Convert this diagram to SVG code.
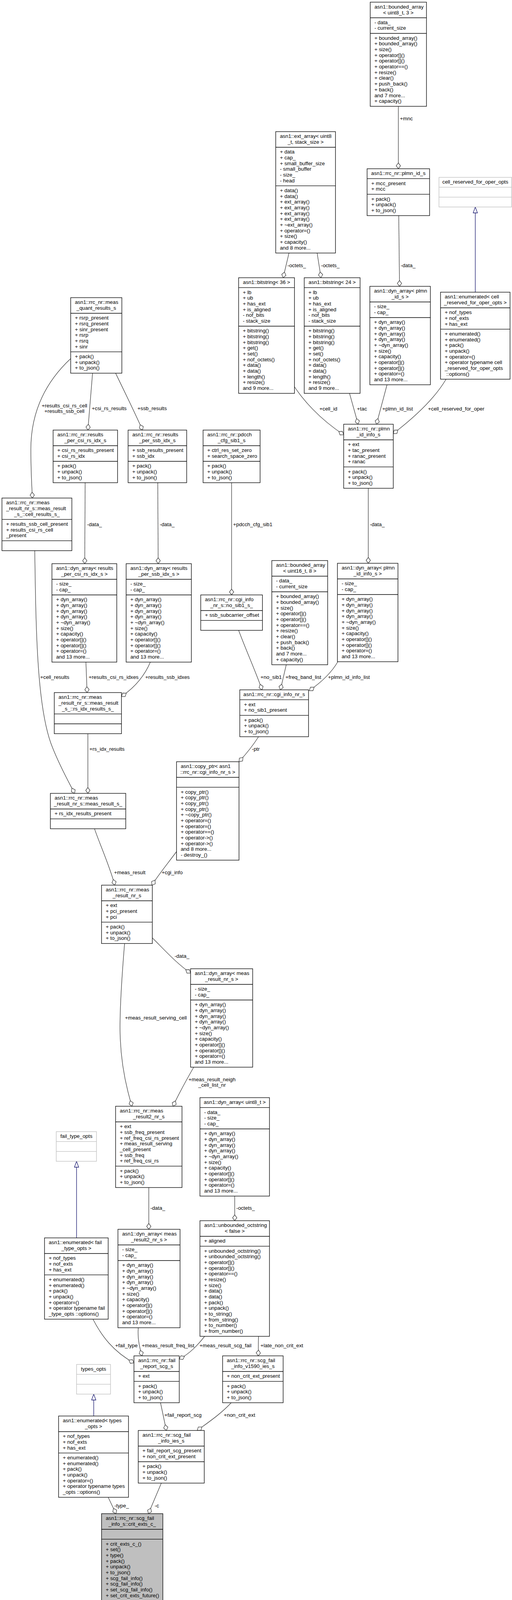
<svg xmlns="http://www.w3.org/2000/svg" width="1311" height="4171" viewBox="0 0 1311 4171">
<style>
text{font-family:"Liberation Sans",Arial,Helvetica,sans-serif;font-size:13.33px;fill:#000}
.c{text-anchor:middle}
.b{fill:#fff;stroke:#000;stroke-width:1.33}
.g{fill:#fff;stroke:#bfbfbf;stroke-width:1.33}
.f{fill:#bfbfbf;stroke:#000;stroke-width:1.33}
.s{fill:none;stroke:#000;stroke-width:1.33}
.sg{fill:none;stroke:#bfbfbf;stroke-width:1.33}
.e{fill:none;stroke:#404040;stroke-width:1.33;marker-end:url(#od)}
.i{fill:none;stroke:#191970;stroke-width:1.33;marker-end:url(#tri)}
</style>
<defs>
<marker id="od" markerUnits="userSpaceOnUse" viewBox="-1 -1 17 13" markerWidth="17" markerHeight="13" refX="15" refY="5.5" orient="auto"><path d="M0,5.5 L7.5,0 L15,5.5 L7.5,11 Z" fill="#fff" stroke="#404040" stroke-width="1.33"/></marker>
<marker id="tri" markerUnits="userSpaceOnUse" viewBox="-1 -1 17 13" markerWidth="17" markerHeight="13" refX="15" refY="5.5" orient="auto"><path d="M0,0 L15,5.5 L0,11 Z" fill="#fff" stroke="#191970" stroke-width="1.33"/></marker>
</defs>
<rect x="0" y="0" width="1311" height="4171" fill="#fff"/>

<g id="edges">
<path class="e" d="M1020 272.2 L1020 432"/>
<path class="e" d="M740 647.7 L725 711"/>
<path class="e" d="M812 647.7 L822 711"/>
<path class="e" d="M1021 552 L1023 733"/>
<path class="i" d="M1217 748 L1217 530"/>
<path class="e" d="M754 990 C775 1022, 815 1070, 880 1113"/>
<path class="e" d="M895 1007 L917 1086"/>
<path class="e" d="M991 985 L964 1086"/>
<path class="e" d="M1142 971 C1122 1005, 1085 1050, 1007 1110"/>
<path class="e" d="M943 1250 L943 1442"/>
<path class="e" d="M181 918 C120 975, 79 1050, 79 1150 C79 1200, 81 1240, 83 1275"/>
<path class="e" d="M237 955.4 L225 1101"/>
<path class="e" d="M296 955.4 C315 995, 340 1045, 365 1101"/>
<path class="e" d="M218 1235.7 L217 1443"/>
<path class="e" d="M404 1235.7 L405 1443"/>
<path class="e" d="M593 1235.7 L593 1523"/>
<path class="e" d="M89 1409.7 C92 1620, 95 1820, 135 1915 C155 1965, 175 2000, 191 2031"/>
<path class="e" d="M220 1695 L223 1773"/>
<path class="e" d="M385 1695 C370 1730, 345 1760, 311 1783"/>
<path class="e" d="M225 1878.3 L225 2031"/>
<path class="e" d="M611 1613.6 C630 1665, 655 1720, 671 1766"/>
<path class="e" d="M733 1701.7 L718 1766"/>
<path class="e" d="M865 1694 C850 1720, 825 1745, 792 1768"/>
<path class="e" d="M662 1886 C650 1905, 635 1925, 612 1950"/>
<path class="e" d="M242 2121.6 C255 2160, 280 2215, 294 2266"/>
<path class="e" d="M452 2180 C430 2210, 405 2240, 389 2266"/>
<path class="e" d="M390 2401 C415 2425, 450 2465, 488 2491"/>
<path class="e" d="M319 2415.4 C312 2500, 305 2600, 308 2660 C311 2730, 325 2790, 338 2832"/>
<path class="e" d="M496 2732 C480 2760, 460 2795, 443 2832"/>
<path class="i" d="M196 3169 L196 2973"/>
<path class="e" d="M381 3040 L381 3147"/>
<path class="e" d="M601 3062 L601 3125"/>
<path class="e" d="M238 3377 C260 3420, 290 3460, 343 3489"/>
<path class="e" d="M354 3399 C352 3425, 357 3450, 364 3471"/>
<path class="e" d="M524 3421 C505 3445, 485 3466, 459 3479"/>
<path class="e" d="M662 3421 C661 3435, 662 3455, 661 3471"/>
<path class="e" d="M411 3591 L426 3662"/>
<path class="e" d="M592 3591 C565 3620, 535 3640, 505 3662"/>
<path class="i" d="M240 3625 L240 3569"/>
<path class="e" d="M277 3833 L297 3875"/>
<path class="e" d="M413 3797 L380 3875"/>
<text x="1024" y="307.5">+mnc</text>
<text x="736" y="683.5">-octets_</text>
<text x="822" y="683.5">-octets_</text>
<text x="1026" y="683.5">-data_</text>
<text x="818" y="1050.5">+cell_id</text>
<text x="914" y="1050.5">+tac</text>
<text x="979" y="1050.5">+plmn_id_list</text>
<text x="1096" y="1050.5">+cell_reserved_for_oper</text>
<text x="947" y="1346.5">-data_</text>
<text class="c" x="165" y="1042.5">+results_csi_rs_cell</text>
<text class="c" x="165" y="1057">+results_ssb_cell</text>
<text x="235" y="1049.5">+csi_rs_results</text>
<text x="352" y="1049.5">+ssb_results</text>
<text x="223" y="1346.5">-data_</text>
<text x="409" y="1346.5">-data_</text>
<text x="597" y="1346.5">+pdcch_cfg_sib1</text>
<text x="103" y="1737.5">+cell_results</text>
<text x="227" y="1737.5">+results_csi_rs_idxes</text>
<text x="372" y="1737.5">+results_ssb_idxes</text>
<text x="667" y="1737.5">+no_sib1</text>
<text x="731" y="1737.5">+freq_band_list</text>
<text x="840" y="1737.5">+plmn_id_info_list</text>
<text x="229" y="1921.5">+rs_idx_results</text>
<text x="645" y="1921.5">-ptr</text>
<text x="292" y="2237.5">+meas_result</text>
<text x="414" y="2237.5">+cgi_info</text>
<text x="447" y="2451.5">-data_</text>
<text x="320" y="2609.5">+meas_result_serving_cell</text>
<text class="c" x="543" y="2767.5">+meas_result_neigh</text>
<text class="c" x="543" y="2782">_cell_list_nr</text>
<text x="385" y="3096.5">-data_</text>
<text x="605" y="3096.5">-octets_</text>
<text x="295" y="3448.5">+fail_type</text>
<text x="363" y="3448.5">+meas_result_freq_list</text>
<text x="511" y="3448.5">+meas_result_scg_fail</text>
<text x="667" y="3448.5">+late_non_crit_ext</text>
<text x="421" y="3626.5">+fail_report_scg</text>
<text x="573" y="3626.5">+non_crit_ext</text>
<text x="293" y="3858.5">-type_</text>
<text x="396" y="3858.5">-c</text>
</g>

<g id="n-bounded-array-u8">
<rect class="b" x="948" y="5.5" width="144" height="266.7"/>
<path class="s" d="M948 45.5 H1092 M948 85.5 H1092"/>
<text x="958.7" y="21.8">asn1::bounded_array</text>
<text class="c" x="1020" y="36.5">&lt; uint8_t, 3 &gt;</text>
<text y="61.8"><tspan x="958.7">- data_</tspan><tspan x="958.7" dy="14.67">- current_size</tspan></text>
<text y="101.8"><tspan x="958.7">+ bounded_array()</tspan><tspan x="958.7" dy="14.67">+ bounded_array()</tspan><tspan x="958.7" dy="14.67">+ size()</tspan><tspan x="958.7" dy="14.67">+ operator[]()</tspan><tspan x="958.7" dy="14.67">+ operator[]()</tspan><tspan x="958.7" dy="14.67">+ operator==()</tspan><tspan x="958.7" dy="14.67">+ resize()</tspan><tspan x="958.7" dy="14.67">+ clear()</tspan><tspan x="958.7" dy="14.67">+ push_back()</tspan><tspan x="958.7" dy="14.67">+ back()</tspan><tspan x="958.7" dy="14.67">and 7 more...</tspan><tspan x="958.7" dy="14.67">+ capacity()</tspan></text>
</g>

<g id="n-ext-array">
<rect class="b" x="706" y="337" width="153" height="310.7"/>
<path class="s" d="M706 377 H859 M706 475.7 H859"/>
<text x="716.7" y="353.3">asn1::ext_array&lt; uint8</text>
<text class="c" x="782.5" y="368">_t, stack_size &gt;</text>
<text y="393.3"><tspan x="716.7">+ data</tspan><tspan x="716.7" dy="14.67">+ cap_</tspan><tspan x="716.7" dy="14.67">+ small_buffer_size</tspan><tspan x="716.7" dy="14.67">- small_buffer</tspan><tspan x="716.7" dy="14.67">- size_</tspan><tspan x="716.7" dy="14.67">- head</tspan></text>
<text y="492"><tspan x="716.7">+ data()</tspan><tspan x="716.7" dy="14.67">+ data()</tspan><tspan x="716.7" dy="14.67">+ ext_array()</tspan><tspan x="716.7" dy="14.67">+ ext_array()</tspan><tspan x="716.7" dy="14.67">+ ext_array()</tspan><tspan x="716.7" dy="14.67">+ ext_array()</tspan><tspan x="716.7" dy="14.67">+ ~ext_array()</tspan><tspan x="716.7" dy="14.67">+ operator=()</tspan><tspan x="716.7" dy="14.67">+ size()</tspan><tspan x="716.7" dy="14.67">+ capacity()</tspan><tspan x="716.7" dy="14.67">and 8 more...</tspan></text>
</g>

<g id="n-plmn-id-s">
<rect class="b" x="940" y="432" width="160" height="120"/>
<path class="s" d="M940 457.3 H1100 M940 497.3 H1100"/>
<text class="c" x="1020" y="448.3">asn1::rrc_nr::plmn_id_s</text>
<text y="473.6"><tspan x="950.7">+ mcc_present</tspan><tspan x="950.7" dy="14.67">+ mcc</tspan></text>
<text y="513.6"><tspan x="950.7">+ pack()</tspan><tspan x="950.7" dy="14.67">+ unpack()</tspan><tspan x="950.7" dy="14.67">+ to_json()</tspan></text>
</g>

<g id="n-cell-reserved-opts">
<rect class="g" x="1124" y="454" width="186" height="75.9"/>
<path class="sg" d="M1124 479.3 H1310 M1124 504.6 H1310"/>
<text class="c" x="1217" y="470.3">cell_reserved_for_oper_opts</text>
</g>

<g id="n-bitstring-36">
<rect class="b" x="611" y="711" width="143" height="296"/>
<path class="s" d="M611 736.3 H754 M611 835 H754"/>
<text class="c" x="682.5" y="727.3">asn1::bitstring&lt; 36 &gt;</text>
<text y="752.6"><tspan x="621.7">+ lb</tspan><tspan x="621.7" dy="14.67">+ ub</tspan><tspan x="621.7" dy="14.67">+ has_ext</tspan><tspan x="621.7" dy="14.67">+ is_aligned</tspan><tspan x="621.7" dy="14.67">- nof_bits</tspan><tspan x="621.7" dy="14.67">- stack_size</tspan></text>
<text y="851.3"><tspan x="621.7">+ bitstring()</tspan><tspan x="621.7" dy="14.67">+ bitstring()</tspan><tspan x="621.7" dy="14.67">+ bitstring()</tspan><tspan x="621.7" dy="14.67">+ get()</tspan><tspan x="621.7" dy="14.67">+ set()</tspan><tspan x="621.7" dy="14.67">+ nof_octets()</tspan><tspan x="621.7" dy="14.67">+ data()</tspan><tspan x="621.7" dy="14.67">+ data()</tspan><tspan x="621.7" dy="14.67">+ length()</tspan><tspan x="621.7" dy="14.67">+ resize()</tspan><tspan x="621.7" dy="14.67">and 9 more...</tspan></text>
</g>

<g id="n-bitstring-24">
<rect class="b" x="779" y="711" width="143" height="296"/>
<path class="s" d="M779 736.3 H922 M779 835 H922"/>
<text class="c" x="850.5" y="727.3">asn1::bitstring&lt; 24 &gt;</text>
<text y="752.6"><tspan x="789.7">+ lb</tspan><tspan x="789.7" dy="14.67">+ ub</tspan><tspan x="789.7" dy="14.67">+ has_ext</tspan><tspan x="789.7" dy="14.67">+ is_aligned</tspan><tspan x="789.7" dy="14.67">- nof_bits</tspan><tspan x="789.7" dy="14.67">- stack_size</tspan></text>
<text y="851.3"><tspan x="789.7">+ bitstring()</tspan><tspan x="789.7" dy="14.67">+ bitstring()</tspan><tspan x="789.7" dy="14.67">+ bitstring()</tspan><tspan x="789.7" dy="14.67">+ get()</tspan><tspan x="789.7" dy="14.67">+ set()</tspan><tspan x="789.7" dy="14.67">+ nof_octets()</tspan><tspan x="789.7" dy="14.67">+ data()</tspan><tspan x="789.7" dy="14.67">+ data()</tspan><tspan x="789.7" dy="14.67">+ length()</tspan><tspan x="789.7" dy="14.67">+ resize()</tspan><tspan x="789.7" dy="14.67">and 9 more...</tspan></text>
</g>

<g id="n-dyn-array-plmn-id">
<rect class="b" x="947" y="733" width="155" height="252"/>
<path class="s" d="M947 773 H1102 M947 813 H1102"/>
<text x="957.7" y="749.3">asn1::dyn_array&lt; plmn</text>
<text class="c" x="1024.5" y="764">_id_s &gt;</text>
<text y="789.3"><tspan x="957.7">- size_</tspan><tspan x="957.7" dy="14.67">- cap_</tspan></text>
<text y="829.3"><tspan x="957.7">+ dyn_array()</tspan><tspan x="957.7" dy="14.67">+ dyn_array()</tspan><tspan x="957.7" dy="14.67">+ dyn_array()</tspan><tspan x="957.7" dy="14.67">+ dyn_array()</tspan><tspan x="957.7" dy="14.67">+ ~dyn_array()</tspan><tspan x="957.7" dy="14.67">+ size()</tspan><tspan x="957.7" dy="14.67">+ capacity()</tspan><tspan x="957.7" dy="14.67">+ operator[]()</tspan><tspan x="957.7" dy="14.67">+ operator[]()</tspan><tspan x="957.7" dy="14.67">+ operator=()</tspan><tspan x="957.7" dy="14.67">and 13 more...</tspan></text>
</g>

<g id="n-enum-cell-reserved">
<rect class="b" x="1128" y="748" width="178" height="222.7"/>
<path class="s" d="M1128 788 H1306 M1128 842.7 H1306"/>
<text x="1138.7" y="764.3">asn1::enumerated&lt; cell</text>
<text class="c" x="1217" y="779">_reserved_for_oper_opts &gt;</text>
<text y="804.3"><tspan x="1138.7">+ nof_types</tspan><tspan x="1138.7" dy="14.67">+ nof_exts</tspan><tspan x="1138.7" dy="14.67">+ has_ext</tspan></text>
<text y="859"><tspan x="1138.7">+ enumerated()</tspan><tspan x="1138.7" dy="14.67">+ enumerated()</tspan><tspan x="1138.7" dy="14.67">+ pack()</tspan><tspan x="1138.7" dy="14.67">+ unpack()</tspan><tspan x="1138.7" dy="14.67">+ operator=()</tspan><tspan x="1138.7" dy="14.67">+ operator typename cell</tspan><tspan x="1138.7" dy="14.67">_reserved_for_oper_opts</tspan><tspan x="1142.4" dy="14.67">::options()</tspan></text>
</g>

<g id="n-meas-quant-results">
<rect class="b" x="181" y="762" width="131" height="193.4"/>
<path class="s" d="M181 802 H312 M181 900.7 H312"/>
<text x="191.7" y="778.3">asn1::rrc_nr::meas</text>
<text class="c" x="246.5" y="793">_quant_results_s</text>
<text y="818.3"><tspan x="191.7">+ rsrp_present</tspan><tspan x="191.7" dy="14.67">+ rsrq_present</tspan><tspan x="191.7" dy="14.67">+ sinr_present</tspan><tspan x="191.7" dy="14.67">+ rsrp</tspan><tspan x="191.7" dy="14.67">+ rsrq</tspan><tspan x="191.7" dy="14.67">+ sinr</tspan></text>
<text y="917"><tspan x="191.7">+ pack()</tspan><tspan x="191.7" dy="14.67">+ unpack()</tspan><tspan x="191.7" dy="14.67">+ to_json()</tspan></text>
</g>

<g id="n-results-per-csi-rs">
<rect class="b" x="136" y="1101" width="165" height="134.7"/>
<path class="s" d="M136 1141 H301 M136 1181 H301"/>
<text x="146.7" y="1117.3">asn1::rrc_nr::results</text>
<text class="c" x="218.5" y="1132">_per_csi_rs_idx_s</text>
<text y="1157.3"><tspan x="146.7">+ csi_rs_results_present</tspan><tspan x="146.7" dy="14.67">+ csi_rs_idx</tspan></text>
<text y="1197.3"><tspan x="146.7">+ pack()</tspan><tspan x="146.7" dy="14.67">+ unpack()</tspan><tspan x="146.7" dy="14.67">+ to_json()</tspan></text>
</g>

<g id="n-results-per-ssb">
<rect class="b" x="328" y="1101" width="150" height="134.7"/>
<path class="s" d="M328 1141 H478 M328 1181 H478"/>
<text x="338.7" y="1117.3">asn1::rrc_nr::results</text>
<text class="c" x="403" y="1132">_per_ssb_idx_s</text>
<text y="1157.3"><tspan x="338.7">+ ssb_results_present</tspan><tspan x="338.7" dy="14.67">+ ssb_idx</tspan></text>
<text y="1197.3"><tspan x="338.7">+ pack()</tspan><tspan x="338.7" dy="14.67">+ unpack()</tspan><tspan x="338.7" dy="14.67">+ to_json()</tspan></text>
</g>

<g id="n-pdcch-cfg-sib1">
<rect class="b" x="520" y="1101" width="146" height="134.7"/>
<path class="s" d="M520 1141 H666 M520 1181 H666"/>
<text x="530.7" y="1117.3">asn1::rrc_nr::pdcch</text>
<text class="c" x="593" y="1132">_cfg_sib1_s</text>
<text y="1157.3"><tspan x="530.7">+ ctrl_res_set_zero</tspan><tspan x="530.7" dy="14.67">+ search_space_zero</tspan></text>
<text y="1197.3"><tspan x="530.7">+ pack()</tspan><tspan x="530.7" dy="14.67">+ unpack()</tspan><tspan x="530.7" dy="14.67">+ to_json()</tspan></text>
</g>

<g id="n-plmn-id-info">
<rect class="b" x="880" y="1086" width="127" height="164"/>
<path class="s" d="M880 1126 H1007 M880 1195.3 H1007"/>
<text x="890.7" y="1102.3">asn1::rrc_nr::plmn</text>
<text class="c" x="943.5" y="1117">_id_info_s</text>
<text y="1142.3"><tspan x="890.7">+ ext</tspan><tspan x="890.7" dy="14.67">+ tac_present</tspan><tspan x="890.7" dy="14.67">+ ranac_present</tspan><tspan x="890.7" dy="14.67">+ ranac</tspan></text>
<text y="1211.6"><tspan x="890.7">+ pack()</tspan><tspan x="890.7" dy="14.67">+ unpack()</tspan><tspan x="890.7" dy="14.67">+ to_json()</tspan></text>
</g>

<g id="n-cell-results">
<rect class="b" x="5" y="1275" width="179" height="134.7"/>
<path class="s" d="M5 1329.7 H184 M5 1384.4 H184"/>
<text x="15.7" y="1291.3">asn1::rrc_nr::meas</text>
<text x="15.7" y="1306">_result_nr_s::meas_result</text>
<text class="c" x="94.5" y="1320.7">_s_::cell_results_s_</text>
<text y="1346"><tspan x="15.7">+ results_ssb_cell_present</tspan><tspan x="15.7" dy="14.67">+ results_csi_rs_cell</tspan><tspan x="15.7" dy="14.67">_present</tspan></text>
</g>

<g id="n-dyn-array-csi-rs">
<rect class="b" x="133" y="1443" width="166" height="252"/>
<path class="s" d="M133 1483 H299 M133 1523 H299"/>
<text x="143.7" y="1459.3">asn1::dyn_array&lt; results</text>
<text class="c" x="216" y="1474">_per_csi_rs_idx_s &gt;</text>
<text y="1499.3"><tspan x="143.7">- size_</tspan><tspan x="143.7" dy="14.67">- cap_</tspan></text>
<text y="1539.3"><tspan x="143.7">+ dyn_array()</tspan><tspan x="143.7" dy="14.67">+ dyn_array()</tspan><tspan x="143.7" dy="14.67">+ dyn_array()</tspan><tspan x="143.7" dy="14.67">+ dyn_array()</tspan><tspan x="143.7" dy="14.67">+ ~dyn_array()</tspan><tspan x="143.7" dy="14.67">+ size()</tspan><tspan x="143.7" dy="14.67">+ capacity()</tspan><tspan x="143.7" dy="14.67">+ operator[]()</tspan><tspan x="143.7" dy="14.67">+ operator[]()</tspan><tspan x="143.7" dy="14.67">+ operator=()</tspan><tspan x="143.7" dy="14.67">and 13 more...</tspan></text>
</g>

<g id="n-dyn-array-ssb">
<rect class="b" x="323" y="1443" width="167" height="252"/>
<path class="s" d="M323 1483 H490 M323 1523 H490"/>
<text x="333.7" y="1459.3">asn1::dyn_array&lt; results</text>
<text class="c" x="406.5" y="1474">_per_ssb_idx_s &gt;</text>
<text y="1499.3"><tspan x="333.7">- size_</tspan><tspan x="333.7" dy="14.67">- cap_</tspan></text>
<text y="1539.3"><tspan x="333.7">+ dyn_array()</tspan><tspan x="333.7" dy="14.67">+ dyn_array()</tspan><tspan x="333.7" dy="14.67">+ dyn_array()</tspan><tspan x="333.7" dy="14.67">+ dyn_array()</tspan><tspan x="333.7" dy="14.67">+ ~dyn_array()</tspan><tspan x="333.7" dy="14.67">+ size()</tspan><tspan x="333.7" dy="14.67">+ capacity()</tspan><tspan x="333.7" dy="14.67">+ operator[]()</tspan><tspan x="333.7" dy="14.67">+ operator[]()</tspan><tspan x="333.7" dy="14.67">+ operator=()</tspan><tspan x="333.7" dy="14.67">and 13 more...</tspan></text>
</g>

<g id="n-no-sib1">
<rect class="b" x="514" y="1523" width="158" height="90.6"/>
<path class="s" d="M514 1563 H672 M514 1588.3 H672"/>
<text x="524.7" y="1539.3">asn1::rrc_nr::cgi_info</text>
<text class="c" x="593" y="1554">_nr_s::no_sib1_s_</text>
<text x="524.7" y="1579.3">+ ssb_subcarrier_offset</text>
</g>

<g id="n-bounded-array-u16">
<rect class="b" x="696" y="1435" width="143" height="266.7"/>
<path class="s" d="M696 1475 H839 M696 1515 H839"/>
<text x="706.7" y="1451.3">asn1::bounded_array</text>
<text class="c" x="767.5" y="1466">&lt; uint16_t, 8 &gt;</text>
<text y="1491.3"><tspan x="706.7">- data_</tspan><tspan x="706.7" dy="14.67">- current_size</tspan></text>
<text y="1531.3"><tspan x="706.7">+ bounded_array()</tspan><tspan x="706.7" dy="14.67">+ bounded_array()</tspan><tspan x="706.7" dy="14.67">+ size()</tspan><tspan x="706.7" dy="14.67">+ operator[]()</tspan><tspan x="706.7" dy="14.67">+ operator[]()</tspan><tspan x="706.7" dy="14.67">+ operator==()</tspan><tspan x="706.7" dy="14.67">+ resize()</tspan><tspan x="706.7" dy="14.67">+ clear()</tspan><tspan x="706.7" dy="14.67">+ push_back()</tspan><tspan x="706.7" dy="14.67">+ back()</tspan><tspan x="706.7" dy="14.67">and 7 more...</tspan><tspan x="706.7" dy="14.67">+ capacity()</tspan></text>
</g>

<g id="n-dyn-array-plmn-id-info">
<rect class="b" x="864" y="1442" width="155" height="252"/>
<path class="s" d="M864 1482 H1019 M864 1522 H1019"/>
<text x="874.7" y="1458.3">asn1::dyn_array&lt; plmn</text>
<text class="c" x="941.5" y="1473">_id_info_s &gt;</text>
<text y="1498.3"><tspan x="874.7">- size_</tspan><tspan x="874.7" dy="14.67">- cap_</tspan></text>
<text y="1538.3"><tspan x="874.7">+ dyn_array()</tspan><tspan x="874.7" dy="14.67">+ dyn_array()</tspan><tspan x="874.7" dy="14.67">+ dyn_array()</tspan><tspan x="874.7" dy="14.67">+ dyn_array()</tspan><tspan x="874.7" dy="14.67">+ ~dyn_array()</tspan><tspan x="874.7" dy="14.67">+ size()</tspan><tspan x="874.7" dy="14.67">+ capacity()</tspan><tspan x="874.7" dy="14.67">+ operator[]()</tspan><tspan x="874.7" dy="14.67">+ operator[]()</tspan><tspan x="874.7" dy="14.67">+ operator=()</tspan><tspan x="874.7" dy="14.67">and 13 more...</tspan></text>
</g>

<g id="n-rs-idx-results">
<rect class="b" x="139" y="1773" width="172" height="105.3"/>
<path class="s" d="M139 1827.7 H311 M139 1853 H311"/>
<text x="149.7" y="1789.3">asn1::rrc_nr::meas</text>
<text x="149.7" y="1804">_result_nr_s::meas_result</text>
<text class="c" x="225" y="1818.7">_s_::rs_idx_results_s_</text>
</g>

<g id="n-cgi-info">
<rect class="b" x="614" y="1766" width="176" height="120"/>
<path class="s" d="M614 1791.3 H790 M614 1831.3 H790"/>
<text class="c" x="702" y="1782.3">asn1::rrc_nr::cgi_info_nr_s</text>
<text y="1807.6"><tspan x="624.7">+ ext</tspan><tspan x="624.7" dy="14.67">+ no_sib1_present</tspan></text>
<text y="1847.6"><tspan x="624.7">+ pack()</tspan><tspan x="624.7" dy="14.67">+ unpack()</tspan><tspan x="624.7" dy="14.67">+ to_json()</tspan></text>
</g>

<g id="n-copy-ptr">
<rect class="b" x="452" y="1950" width="160" height="252"/>
<path class="s" d="M452 1990 H612 M452 2015.3 H612"/>
<text x="462.7" y="1966.3">asn1::copy_ptr&lt; asn1</text>
<text class="c" x="532" y="1981">::rrc_nr::cgi_info_nr_s &gt;</text>
<text y="2031.6"><tspan x="462.7">+ copy_ptr()</tspan><tspan x="462.7" dy="14.67">+ copy_ptr()</tspan><tspan x="462.7" dy="14.67">+ copy_ptr()</tspan><tspan x="462.7" dy="14.67">+ copy_ptr()</tspan><tspan x="462.7" dy="14.67">+ ~copy_ptr()</tspan><tspan x="462.7" dy="14.67">+ operator=()</tspan><tspan x="462.7" dy="14.67">+ operator=()</tspan><tspan x="462.7" dy="14.67">+ operator==()</tspan><tspan x="462.7" dy="14.67">+ operator-&gt;()</tspan><tspan x="462.7" dy="14.67">+ operator-&gt;()</tspan><tspan x="462.7" dy="14.67">and 8 more...</tspan><tspan x="462.7" dy="14.67">- destroy_()</tspan></text>
</g>

<g id="n-meas-result-s">
<rect class="b" x="129" y="2031" width="193" height="90.6"/>
<path class="s" d="M129 2071 H322 M129 2096.3 H322"/>
<text x="139.7" y="2047.3">asn1::rrc_nr::meas</text>
<text class="c" x="225.5" y="2062">_result_nr_s::meas_result_s_</text>
<text x="139.7" y="2087.3">+ rs_idx_results_present</text>
</g>

<g id="n-meas-result-nr">
<rect class="b" x="260" y="2266" width="130" height="149.4"/>
<path class="s" d="M260 2306 H390 M260 2360.7 H390"/>
<text x="270.7" y="2282.3">asn1::rrc_nr::meas</text>
<text class="c" x="325" y="2297">_result_nr_s</text>
<text y="2322.3"><tspan x="270.7">+ ext</tspan><tspan x="270.7" dy="14.67">+ pci_present</tspan><tspan x="270.7" dy="14.67">+ pci</tspan></text>
<text y="2377"><tspan x="270.7">+ pack()</tspan><tspan x="270.7" dy="14.67">+ unpack()</tspan><tspan x="270.7" dy="14.67">+ to_json()</tspan></text>
</g>

<g id="n-dyn-array-meas-result-nr">
<rect class="b" x="488" y="2480" width="159" height="252"/>
<path class="s" d="M488 2520 H647 M488 2560 H647"/>
<text x="498.7" y="2496.3">asn1::dyn_array&lt; meas</text>
<text class="c" x="567.5" y="2511">_result_nr_s &gt;</text>
<text y="2536.3"><tspan x="498.7">- size_</tspan><tspan x="498.7" dy="14.67">- cap_</tspan></text>
<text y="2576.3"><tspan x="498.7">+ dyn_array()</tspan><tspan x="498.7" dy="14.67">+ dyn_array()</tspan><tspan x="498.7" dy="14.67">+ dyn_array()</tspan><tspan x="498.7" dy="14.67">+ dyn_array()</tspan><tspan x="498.7" dy="14.67">+ ~dyn_array()</tspan><tspan x="498.7" dy="14.67">+ size()</tspan><tspan x="498.7" dy="14.67">+ capacity()</tspan><tspan x="498.7" dy="14.67">+ operator[]()</tspan><tspan x="498.7" dy="14.67">+ operator[]()</tspan><tspan x="498.7" dy="14.67">+ operator=()</tspan><tspan x="498.7" dy="14.67">and 13 more...</tspan></text>
</g>

<g id="n-meas-result2-nr">
<rect class="b" x="296" y="2832" width="170" height="208.1"/>
<path class="s" d="M296 2872 H466 M296 2985.4 H466"/>
<text x="306.7" y="2848.3">asn1::rrc_nr::meas</text>
<text class="c" x="381" y="2863">_result2_nr_s</text>
<text y="2888.3"><tspan x="306.7">+ ext</tspan><tspan x="306.7" dy="14.67">+ ssb_freq_present</tspan><tspan x="306.7" dy="14.67">+ ref_freq_csi_rs_present</tspan><tspan x="306.7" dy="14.67">+ meas_result_serving</tspan><tspan x="306.7" dy="14.67">_cell_present</tspan><tspan x="306.7" dy="14.67">+ ssb_freq</tspan><tspan x="306.7" dy="14.67">+ ref_freq_csi_rs</tspan></text>
<text y="3001.7"><tspan x="306.7">+ pack()</tspan><tspan x="306.7" dy="14.67">+ unpack()</tspan><tspan x="306.7" dy="14.67">+ to_json()</tspan></text>
</g>

<g id="n-fail-type-opts">
<rect class="g" x="144" y="2897" width="103" height="75.9"/>
<path class="sg" d="M144 2922.3 H247 M144 2947.6 H247"/>
<text class="c" x="195.5" y="2913.3">fail_type_opts</text>
</g>

<g id="n-dyn-array-u8">
<rect class="b" x="512" y="2810" width="178" height="252"/>
<path class="s" d="M512 2835.3 H690 M512 2890 H690"/>
<text class="c" x="601" y="2826.3">asn1::dyn_array&lt; uint8_t &gt;</text>
<text y="2851.6"><tspan x="522.7">- data_</tspan><tspan x="522.7" dy="14.67">- size_</tspan><tspan x="522.7" dy="14.67">- cap_</tspan></text>
<text y="2906.3"><tspan x="522.7">+ dyn_array()</tspan><tspan x="522.7" dy="14.67">+ dyn_array()</tspan><tspan x="522.7" dy="14.67">+ dyn_array()</tspan><tspan x="522.7" dy="14.67">+ dyn_array()</tspan><tspan x="522.7" dy="14.67">+ ~dyn_array()</tspan><tspan x="522.7" dy="14.67">+ size()</tspan><tspan x="522.7" dy="14.67">+ capacity()</tspan><tspan x="522.7" dy="14.67">+ operator[]()</tspan><tspan x="522.7" dy="14.67">+ operator[]()</tspan><tspan x="522.7" dy="14.67">+ operator=()</tspan><tspan x="522.7" dy="14.67">and 13 more...</tspan></text>
</g>

<g id="n-enum-fail-type">
<rect class="b" x="114" y="3169" width="163" height="208.1"/>
<path class="s" d="M114 3209 H277 M114 3263.7 H277"/>
<text x="124.7" y="3185.3">asn1::enumerated&lt; fail</text>
<text class="c" x="195.5" y="3200">_type_opts &gt;</text>
<text y="3225.3"><tspan x="124.7">+ nof_types</tspan><tspan x="124.7" dy="14.67">+ nof_exts</tspan><tspan x="124.7" dy="14.67">+ has_ext</tspan></text>
<text y="3280"><tspan x="124.7">+ enumerated()</tspan><tspan x="124.7" dy="14.67">+ enumerated()</tspan><tspan x="124.7" dy="14.67">+ pack()</tspan><tspan x="124.7" dy="14.67">+ unpack()</tspan><tspan x="124.7" dy="14.67">+ operator=()</tspan><tspan x="124.7" dy="14.67">+ operator typename fail</tspan><tspan x="124.7" dy="14.67">_type_opts ::options()</tspan></text>
</g>

<g id="n-dyn-array-meas-result2">
<rect class="b" x="302" y="3147" width="159" height="252"/>
<path class="s" d="M302 3187 H461 M302 3227 H461"/>
<text x="312.7" y="3163.3">asn1::dyn_array&lt; meas</text>
<text class="c" x="381.5" y="3178">_result2_nr_s &gt;</text>
<text y="3203.3"><tspan x="312.7">- size_</tspan><tspan x="312.7" dy="14.67">- cap_</tspan></text>
<text y="3243.3"><tspan x="312.7">+ dyn_array()</tspan><tspan x="312.7" dy="14.67">+ dyn_array()</tspan><tspan x="312.7" dy="14.67">+ dyn_array()</tspan><tspan x="312.7" dy="14.67">+ dyn_array()</tspan><tspan x="312.7" dy="14.67">+ ~dyn_array()</tspan><tspan x="312.7" dy="14.67">+ size()</tspan><tspan x="312.7" dy="14.67">+ capacity()</tspan><tspan x="312.7" dy="14.67">+ operator[]()</tspan><tspan x="312.7" dy="14.67">+ operator[]()</tspan><tspan x="312.7" dy="14.67">+ operator=()</tspan><tspan x="312.7" dy="14.67">and 13 more...</tspan></text>
</g>

<g id="n-unbounded-octstring">
<rect class="b" x="512" y="3125" width="178" height="296"/>
<path class="s" d="M512 3165 H690 M512 3190.3 H690"/>
<text x="522.7" y="3141.3">asn1::unbounded_octstring</text>
<text class="c" x="601" y="3156">&lt; false &gt;</text>
<text x="522.7" y="3181.3">+ aligned</text>
<text y="3206.6"><tspan x="522.7">+ unbounded_octstring()</tspan><tspan x="522.7" dy="14.67">+ unbounded_octstring()</tspan><tspan x="522.7" dy="14.67">+ operator[]()</tspan><tspan x="522.7" dy="14.67">+ operator[]()</tspan><tspan x="522.7" dy="14.67">+ operator==()</tspan><tspan x="522.7" dy="14.67">+ resize()</tspan><tspan x="522.7" dy="14.67">+ size()</tspan><tspan x="522.7" dy="14.67">+ data()</tspan><tspan x="522.7" dy="14.67">+ data()</tspan><tspan x="522.7" dy="14.67">+ pack()</tspan><tspan x="522.7" dy="14.67">+ unpack()</tspan><tspan x="522.7" dy="14.67">+ to_string()</tspan><tspan x="522.7" dy="14.67">+ from_string()</tspan><tspan x="522.7" dy="14.67">+ to_number()</tspan><tspan x="522.7" dy="14.67">+ from_number()</tspan></text>
</g>

<g id="n-fail-report-scg">
<rect class="b" x="343" y="3471" width="116" height="120"/>
<path class="s" d="M343 3511 H459 M343 3536.3 H459"/>
<text x="353.7" y="3487.3">asn1::rrc_nr::fail</text>
<text class="c" x="401" y="3502">_report_scg_s</text>
<text x="353.7" y="3527.3">+ ext</text>
<text y="3552.6"><tspan x="353.7">+ pack()</tspan><tspan x="353.7" dy="14.67">+ unpack()</tspan><tspan x="353.7" dy="14.67">+ to_json()</tspan></text>
</g>

<g id="n-scg-fail-info-v1590">
<rect class="b" x="570" y="3471" width="155" height="120"/>
<path class="s" d="M570 3511 H725 M570 3536.3 H725"/>
<text x="580.7" y="3487.3">asn1::rrc_nr::scg_fail</text>
<text class="c" x="647.5" y="3502">_info_v1590_ies_s</text>
<text x="580.7" y="3527.3">+ non_crit_ext_present</text>
<text y="3552.6"><tspan x="580.7">+ pack()</tspan><tspan x="580.7" dy="14.67">+ unpack()</tspan><tspan x="580.7" dy="14.67">+ to_json()</tspan></text>
</g>

<g id="n-types-opts">
<rect class="g" x="196" y="3493" width="87" height="75.9"/>
<path class="sg" d="M196 3518.3 H283 M196 3543.6 H283"/>
<text class="c" x="239.5" y="3509.3">types_opts</text>
</g>

<g id="n-enum-types">
<rect class="b" x="150" y="3625" width="179" height="208.1"/>
<path class="s" d="M150 3665 H329 M150 3719.7 H329"/>
<text x="160.7" y="3641.3">asn1::enumerated&lt; types</text>
<text class="c" x="239.5" y="3656">_opts &gt;</text>
<text y="3681.3"><tspan x="160.7">+ nof_types</tspan><tspan x="160.7" dy="14.67">+ nof_exts</tspan><tspan x="160.7" dy="14.67">+ has_ext</tspan></text>
<text y="3736"><tspan x="160.7">+ enumerated()</tspan><tspan x="160.7" dy="14.67">+ enumerated()</tspan><tspan x="160.7" dy="14.67">+ pack()</tspan><tspan x="160.7" dy="14.67">+ unpack()</tspan><tspan x="160.7" dy="14.67">+ operator=()</tspan><tspan x="160.7" dy="14.67">+ operator typename types</tspan><tspan x="160.7" dy="14.67">_opts ::options()</tspan></text>
</g>

<g id="n-scg-fail-info-ies">
<rect class="b" x="354" y="3662" width="169" height="134.7"/>
<path class="s" d="M354 3702 H523 M354 3742 H523"/>
<text x="364.7" y="3678.3">asn1::rrc_nr::scg_fail</text>
<text class="c" x="438.5" y="3693">_info_ies_s</text>
<text y="3718.3"><tspan x="364.7">+ fail_report_scg_present</tspan><tspan x="364.7" dy="14.67">+ non_crit_ext_present</tspan></text>
<text y="3758.3"><tspan x="364.7">+ pack()</tspan><tspan x="364.7" dy="14.67">+ unpack()</tspan><tspan x="364.7" dy="14.67">+ to_json()</tspan></text>
</g>

<g id="n-crit-exts-c">
<rect class="f" x="260" y="3875" width="157" height="222.7"/>
<path class="s" d="M260 3915 H417 M260 3940.3 H417"/>
<text x="270.7" y="3891.3">asn1::rrc_nr::scg_fail</text>
<text class="c" x="338.5" y="3906">_info_s::crit_exts_c_</text>
<text y="3956.6"><tspan x="270.7">+ crit_exts_c_()</tspan><tspan x="270.7" dy="14.67">+ set()</tspan><tspan x="270.7" dy="14.67">+ type()</tspan><tspan x="270.7" dy="14.67">+ pack()</tspan><tspan x="270.7" dy="14.67">+ unpack()</tspan><tspan x="270.7" dy="14.67">+ to_json()</tspan><tspan x="270.7" dy="14.67">+ scg_fail_info()</tspan><tspan x="270.7" dy="14.67">+ scg_fail_info()</tspan><tspan x="270.7" dy="14.67">+ set_scg_fail_info()</tspan><tspan x="270.7" dy="14.67">+ set_crit_exts_future()</tspan></text>
</g>
</svg>
